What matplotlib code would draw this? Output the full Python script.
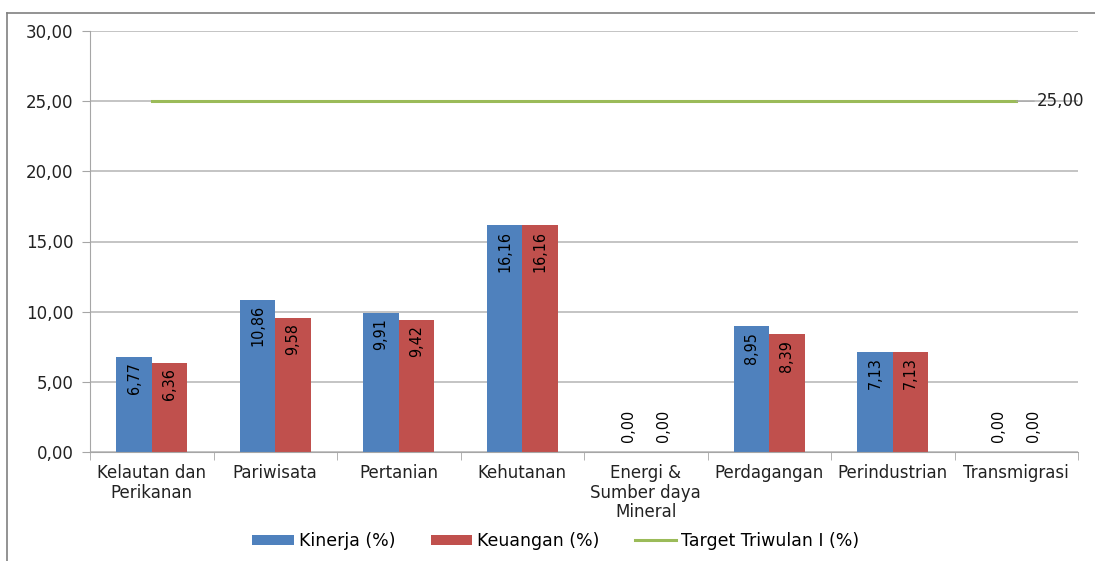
import numpy as np
import matplotlib
matplotlib.use("Agg")
import matplotlib.pyplot as plt
from matplotlib.lines import Line2D

CATEGORIES = ["Kelautan dan\nPerikanan", "Pariwisata", "Pertanian", "Kehutanan",
              "Energi &\nSumber daya\nMineral", "Perdagangan", "Perindustrian",
              "Transmigrasi"]
KINERJA = [6.77, 10.86, 9.91, 16.16, 0.00, 8.95, 7.13, 0.00]
KEUANGAN = [6.36, 9.58, 9.42, 16.16, 0.00, 8.39, 7.13, 0.00]
TARGET = [25.0] * len(CATEGORIES)
Y_TICKS = [0, 5, 10, 15, 20, 25, 30]

BLUE = "#4F81BD"
RED = "#C0504D"
GREEN = "#9BBB59"
GRID = "#C4C4C4"
TEXT = "#222222"


def fmt(v):
    return f"{v:.2f}".replace(".", ",")


def label_bars(ax, xs, vals):
    for x, v in zip(xs, vals):
        if v > 0:
            off, va = -4, "top"
        else:
            off, va = 7, "bottom"
        ax.annotate(fmt(v), (x, v), xytext=(0, off), textcoords="offset points",
                    rotation=90, ha="center", va=va, fontsize=11.5,
                    fontstretch="condensed", color="black")


fig = plt.figure(figsize=(10.95, 5.61), dpi=100)
ax = fig.add_axes([90 / 1095, 1 - 452 / 561, (1078 - 90) / 1095, (452 - 31) / 561])

x = np.arange(len(CATEGORIES))
w = 0.2857
ax.bar(x - w / 2, KINERJA, w, color=BLUE, label="Kinerja (%)", zorder=2)
ax.bar(x + w / 2, KEUANGAN, w, color=RED, label="Keuangan (%)", zorder=2)
ax.plot(x, TARGET, color=GREEN, lw=2.2, label="Target Triwulan I (%)", zorder=3)

label_bars(ax, x - w / 2, KINERJA)
label_bars(ax, x + w / 2, KEUANGAN)

ax.annotate(fmt(TARGET[-1]), (x[-1], TARGET[-1]), xytext=(15, 0),
            textcoords="offset points", ha="left", va="center", fontsize=12,
            color=TEXT, annotation_clip=False,
            arrowprops=dict(arrowstyle="-", color="#A6A6A6", lw=0.8,
                            shrinkA=0, shrinkB=0))

ax.set_xlim(-0.5, len(CATEGORIES) - 0.5)
ax.set_ylim(0, 30)
ax.set_yticks(Y_TICKS)
ax.set_yticklabels([fmt(v) for v in Y_TICKS], fontsize=12, color=TEXT)
ax.yaxis.grid(True, color=GRID, lw=1.4, zorder=0)
ax.set_axisbelow(True)

ax.set_xticks(x)
ax.set_xticklabels(CATEGORIES, fontsize=12, color=TEXT, linespacing=1.08)
ax.tick_params(axis="x", which="major", length=0, pad=9)
ax.set_xticks(np.arange(-0.5, len(CATEGORIES)), minor=True)
ax.tick_params(axis="x", which="minor", length=6, color="#A6A6A6")
ax.tick_params(axis="y", length=6, color="#A6A6A6", pad=6)

for s in ("top", "right"):
    ax.spines[s].set_visible(False)
for s in ("left", "bottom"):
    ax.spines[s].set_color("#A6A6A6")

handles, labels = ax.get_legend_handles_labels()
order = [1, 2, 0]
fig.legend([handles[i] for i in order], [labels[i] for i in order],
           loc="center", bbox_to_anchor=(556 / 1095, 1 - 541 / 561), ncol=3,
           frameon=False, fontsize=12.5, handlelength=2.4, handleheight=0.55,
           columnspacing=2.0, handletextpad=0.3)

# outer frame (top and left edges)
fig.add_artist(Line2D([7 / 1095, 1], [1 - 13 / 561, 1 - 13 / 561],
                      color="#808080", lw=1.2, transform=fig.transFigure))
fig.add_artist(Line2D([7 / 1095, 7 / 1095], [0, 1 - 13 / 561],
                      color="#808080", lw=1.2, transform=fig.transFigure))

fig.savefig("out.png", dpi=100)
plt.close(fig)
